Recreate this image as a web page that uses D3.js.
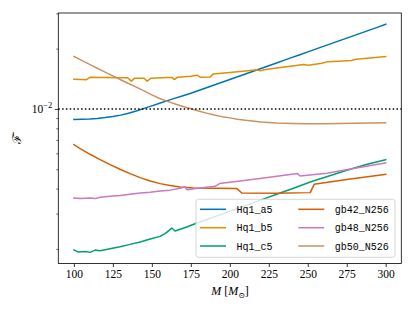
<!DOCTYPE html>
<html><head><meta charset="utf-8">
<script src="https://cdn.jsdelivr.net/npm/d3@7"></script>
<style>body{margin:0;background:#fff}svg{display:block}</style>
</head><body>
<svg id="c" width="415" height="311"></svg>
<script>
// ---- data ----
const xTicks = [100,125,150,175,200,225,250,275,300];
const yMajorTicks = [0.01];
const yMinorTicks = [0.002,0.003,0.004,0.005,0.006,0.007,0.008,0.009,0.02,0.03];
const refLevel = 0.01;

const hq1a5M = [100,105,110,115,120,125,130,135,140,145,150,155,160,165,170,175,180,185,190,195,200,205,210,215,220,225,230,235,240,245,250,255,260,265,270,275,280,285,290,295,300];
const hq1a5F = [0.00885,0.00887,0.00890,0.00896,0.00905,0.00916,0.00931,0.00952,0.00977,0.01006,0.01036,0.01068,0.01100,0.01132,0.01164,0.01198,0.01236,0.01276,0.01317,0.01359,0.01403,0.01448,0.01495,0.01543,0.01593,0.01644,0.01697,0.01752,0.01808,0.01866,0.01926,0.01988,0.02052,0.02118,0.02186,0.02257,0.02330,0.02405,0.02482,0.02562,0.02645];

const hq1b5M = [100,105,108,110.5,120,130,134.5,136.8,139,145,147,149.5,160,163,164.5,166.5,175,179,181,187.5,189.5,200,210,217.4,219.6,222,230,240,247.3,250.5,259,262.3,270,278,281,290,300];
const hq1b5F = [0.01408,0.01404,0.01400,0.01441,0.01436,0.01432,0.01430,0.01376,0.01424,0.01424,0.01376,0.01424,0.01434,0.01437,0.01401,0.01441,0.01457,0.01474,0.01441,0.01445,0.01496,0.01522,0.01547,0.01567,0.01549,0.01570,0.01602,0.01639,0.01667,0.01654,0.01692,0.01718,0.01732,0.01744,0.01772,0.01797,0.01824];

const hq1c5M = [100,102.9,107.2,110.4,113.6,116.8,123.2,129.6,136,142.5,148.9,155.3,158.5,162.8,164.9,172.4,178.9,190,200,210,220.6,230,240,251.6,260,275.1,287,300];
const hq1c5F = [0.001977,0.001928,0.001943,0.001921,0.001972,0.001959,0.002004,0.002051,0.002106,0.002163,0.002239,0.002309,0.002382,0.002541,0.002455,0.002570,0.002692,0.002891,0.003083,0.003289,0.003524,0.003745,0.003993,0.004315,0.004529,0.004937,0.005260,0.005572];

const gb42M = [100,104,110.4,116.8,123.2,129.6,136,142.5,148.9,155.3,161.7,168.1,176.7,190,204.5,207.7,230,251.6,254.1,275,300];
const gb42F = [0.006637,0.006339,0.005935,0.005585,0.005272,0.004995,0.004753,0.004539,0.004365,0.004236,0.004145,0.004074,0.004027,0.004013,0.003999,0.003802,0.003797,0.003819,0.004202,0.004436,0.004715];

const gb48M = [100,104,110.4,113.6,116.8,123.2,129.6,136,142.5,148.9,155.3,161.7,168.1,171.4,172.6,177,190.6,193.4,219.5,243.4,245.1,262.3,279.3,300];
const gb48F = [0.003589,0.003565,0.003589,0.003565,0.003618,0.003660,0.003690,0.003745,0.003802,0.003832,0.003890,0.003930,0.004013,0.004083,0.003945,0.003990,0.004107,0.004236,0.004487,0.004753,0.004624,0.004770,0.005035,0.005370];

const gb50M = [100,105,110,115,120,125,130,135,140,145,150,155,160,165,170,175,180,185,190,195,200,205,210,220,230,240,250,260,270,280,290,300];
const gb50F = [0.01828,0.01746,0.01669,0.01596,0.01526,0.01461,0.01398,0.01340,0.01284,0.01230,0.01176,0.01127,0.01091,0.01059,0.01029,0.01002,0.00976,0.00953,0.00932,0.00915,0.00902,0.00889,0.00878,0.00860,0.00851,0.00846,0.00844,0.00844,0.00846,0.00849,0.00851,0.00853];

const seriesNames = ["Hq1_a5","Hq1_b5","Hq1_c5","gb42_N256","gb48_N256","gb50_N526"];
const seriesColors = ["#0173B2","#DE8F05","#029E73","#D55E00","#CC78BC","#CA9161"];
const seriesM = [hq1a5M,hq1b5M,hq1c5M,gb42M,gb48M,gb50M];
const seriesF = [hq1a5F,hq1b5F,hq1c5F,gb42F,gb48F,gb50F];

// ---- layout ----
const L = 58.3, R = 401.3, T = 13, B = 263.5;
const svg = d3.select("#c");
const x = d3.scaleLinear().domain([90,310]).range([L,R]);
const y = d3.scaleLog().domain([Math.pow(10,-2.772), Math.pow(10,-1.521)]).range([B,T]);

const serif = "'Liberation Serif','DejaVu Serif',serif";
const mono = "'Liberation Mono','DejaVu Sans Mono',monospace";

// curves
const line = d3.line().x(d=>x(d[0])).y(d=>y(d[1]));
seriesNames.forEach((n,i)=>{
  const pts = seriesM[i].map((m,j)=>[m, seriesF[i][j]]);
  svg.append("path").attr("d", line(pts)).attr("fill","none")
    .attr("stroke", seriesColors[i]).attr("stroke-width",1.5)
    .attr("stroke-linejoin","round").attr("stroke-linecap","square");
});

// reference dotted line
svg.append("line").attr("x1",L).attr("x2",R).attr("y1",y(refLevel)).attr("y2",y(refLevel))
  .attr("stroke","#000").attr("stroke-width",1.5).attr("stroke-dasharray","1.5,2.3");

// x axis
const gx = svg.append("g").attr("transform",`translate(0,${B})`)
  .call(d3.axisBottom(x).tickValues(xTicks).tickSize(3.5).tickSizeOuter(0).tickPadding(3));
gx.select(".domain").remove();
gx.selectAll(".tick line").attr("stroke","#000").attr("stroke-width",0.8);
gx.selectAll(".tick text").attr("font-family",serif).attr("font-size",11.5).attr("fill","#000");

// y axis major
const gy = svg.append("g").attr("transform",`translate(${L},0)`)
  .call(d3.axisLeft(y).tickValues(yMajorTicks).tickSize(3.5).tickSizeOuter(0).tickFormat(()=>""));
gy.select(".domain").remove();
gy.selectAll(".tick line").attr("stroke","#000").attr("stroke-width",0.8);
gy.selectAll(".tick").each(function(d){
  const t = d3.select(this).append("text").attr("x",-6).attr("y",4).attr("text-anchor","end")
    .attr("font-family",serif).attr("font-size",11.5).attr("fill","#000");
  t.append("tspan").text("10");
  t.append("tspan").attr("dy",-5).attr("font-size",8.5).text("\u2212" + (-Math.round(Math.log10(d))));
});
// y axis minor
const gym = svg.append("g").attr("transform",`translate(${L},0)`)
  .call(d3.axisLeft(y).tickValues(yMinorTicks).tickSize(2).tickSizeOuter(0).tickFormat(()=>""));
gym.select(".domain").remove();
gym.selectAll(".tick line").attr("stroke","#000").attr("stroke-width",0.6);

// frame
svg.append("rect").attr("x",L).attr("y",T).attr("width",R-L).attr("height",B-T)
  .attr("fill","none").attr("stroke","#000").attr("stroke-width",0.8);

// axis labels
const xl = svg.append("text").attr("x",230).attr("y",295).attr("text-anchor","middle")
  .attr("font-family",serif).attr("font-size",12).attr("fill","#000");
xl.append("tspan").attr("font-style","italic").text("M");
xl.append("tspan").text(" [");
xl.append("tspan").attr("font-style","italic").text("M");
xl.append("tspan").attr("font-size",8).attr("dy",2.5).text("\u2299");
xl.append("tspan").attr("dy",-2.5).text("]");

const yl = svg.append("text").attr("transform","translate(21,139) rotate(-90)")
  .attr("text-anchor","middle").attr("font-family",serif).attr("font-size",12).attr("fill","#000")
  .text("\u2131\u0304");

// legend
const lg = svg.append("g");
lg.append("rect").attr("x",196).attr("y",199.3).attr("width",199).attr("height",58)
  .attr("rx",2.5).attr("fill","#fff").attr("fill-opacity",0.8).attr("stroke","#cccccc").attr("stroke-width",0.8);
const rowY = [209.3,227.7,246];
const colX = [200,298.3];
seriesNames.forEach((n,i)=>{
  const c = Math.floor(i/3), r = i%3;
  lg.append("line").attr("x1",colX[c]).attr("x2",colX[c]+26).attr("y1",rowY[r]).attr("y2",rowY[r])
    .attr("stroke",seriesColors[i]).attr("stroke-width",1.5);
  lg.append("text").attr("x",colX[c]+36.5).attr("y",rowY[r]+3.6)
    .attr("font-family",mono).attr("font-size",10).attr("fill","#000").text(n);
});
</script>
</body></html>
